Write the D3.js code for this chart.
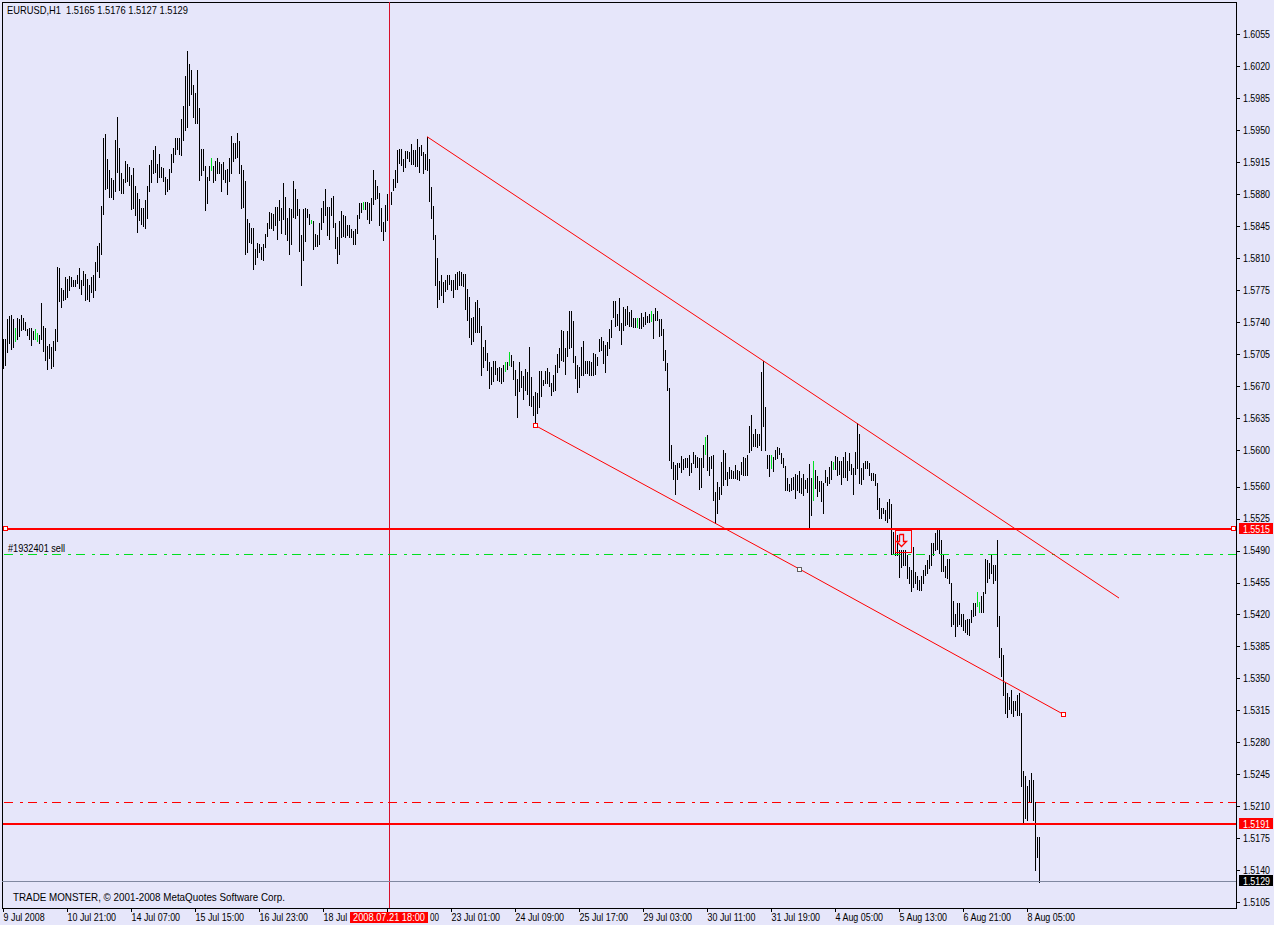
<!DOCTYPE html>
<html><head><meta charset="utf-8">
<script src="https://cdn.jsdelivr.net/npm/d3@7/dist/d3.min.js"></script>
<style>html,body{margin:0;padding:0;background:#E6E6FA}svg{display:block}text{font-family:"Liberation Sans",Arial,sans-serif;font-size:11px;fill:#000}</style>
</head><body><svg id="c" width="1274" height="925"></svg>
<script>
// Hourly bar highs and lows, in pips (price x 10000)
const highs = [
15721,15721,15743,15747,15748,15743,15734,15745,15743,15748,15745,15740,15733,15734,15734,15730,15733,15728,15726,15761,15736,15734,15714,15716,15713,15719,15733,15800,15799,15777,15775,15789,15787,15791,15789,15786,15786,15792,15799,15786,15796,15793,15787,15781,15789,15792,15806,15823,15827,
15867,15941,15946,15919,15906,15898,15896,15939,15965,15931,15903,15897,15916,15913,15910,15901,15909,15889,15881,15875,15865,15865,15874,15889,15912,15917,15928,15933,15913,15924,15910,15909,15899,15897,15908,15924,15931,15942,15942,15941,15962,15977,16009,16037,16022,16016,16000,15991,16016,15974,15930,15930,15911,15899,15911,15920,15911,15916,15920,15915,15913,15915,15907,15908,15920,15944,15936,15936,15947,15938,15912,15907,15894,15853,15848,15843,15843,15820,15827,15826,15822,15825,15836,15849,15860,15859,15858,15866,15866,15874,15865,15892,15877,15854,15865,15864,15894,15886,15875,15864,15835,15864,15865,15864,15858,15852,15851,15836,15835,15848,
15865,15873,15886,15866,15866,15876,15878,15849,15833,15851,15862,15857,15856,15846,15846,15842,15840,15842,15857,15870,15870,15872,15872,15872,15870,15876,15907,15895,15889,15881,15865,15850,15868,15880,15885,15882,15897,15907,15928,15930,15930,15918,15927,15927,15926,15935,15928,15928,15940,15932,15934,15926,15924,15943,15919,15888,15867,15835,15810,15785,15792,15784,15786,15792,15792,15786,15786,15793,15795,15796,15795,15793,15793,15776,15768,15745,15746,15762,15764,15755,15736,15713,15720,15706,15696,15691,15697,15697,15690,15691,15690,15693,15696,15696,15707,15704,15697,15688,15678,15696,15687,15681,15689,15685,15713,15680,15659,15664,15662,15687,15687,15677,15687,15690,15685,15673,15682,15693,15705,15712,15731,15730,15712,15730,15752,15752,15741,15703,15693,15691,15713,15719,15697,15697,15697,15696,15706,15705,15702,15722,15724,15719,15715,15718,15733,15742,15763,15763,15749,15766,15739,15757,15754,15758,15751,15753,15745,15745,15744,15745,
15750,15746,15751,15747,15749,15752,15749,15755,15752,15743,15743,15732,15709,15695,15668,15605,15587,15584,15586,15586,15593,15590,15591,15591,15595,15586,15598,15595,15592,15591,15591,15605,15614,15616,15592,15593,15595,15554,15565,15559,15587,15600,15597,15576,15581,15578,15577,15584,15578,15577,15587,15592,15591,15595,15626,15638,15618,15623,15618,15618,15685,15697,15647,15595,15595,15595,15592,15600,15603,15602,15597,15591,15582,15569,15563,15569,15570,15574,15573,15577,15569,15574,15567,15569,15585,15569,15588,15578,15572,15566,15566,15564,15578,15570,15581,15588,15587,15593,15592,15588,15588,15592,15598,15588,15597,15585,15580,15598,15630,15618,15580,15586,15588,15588,15586,15575,15575,15574,15564,15547,15537,15537,15534,15543,15546,
15541,15510,15509,15507,15491,15491,15491,15491,15485,15472,15469,15494,15467,15462,15458,15462,15469,15474,15480,15485,15498,15498,15509,15513,15513,15502,15485,15473,15481,15481,15455,15435,15421,15433,15433,15420,15420,15414,15415,15415,15425,15433,15433,15445,15434,15440,15445,15481,15480,15476,15485,15474,15474,15502,15418,15383,15376,15346,15334,15330,15337,15325,15325,15332,15334,15312,
15249,15243,15232,15239,15247,15239,15215,15176,15176];
const lows = [
15690,15693,15707,15717,15711,15713,15719,15722,15725,15731,15733,15731,15726,15722,15715,15721,15721,15719,15717,15721,15708,15698,15689,15701,15690,15692,15710,15719,15763,15757,15764,15765,15768,15775,15780,15780,15780,15783,15777,15771,15781,15764,15765,15763,15773,15768,15775,15796,15789,
15814,15858,15886,15887,15877,15877,15875,15883,15904,15885,15881,15881,15893,15894,15890,15864,15865,15857,15839,15852,15847,15845,15843,15854,15883,15893,15903,15904,15893,15899,15899,15894,15880,15883,15886,15904,15915,15924,15929,15924,15923,15939,15950,15954,15978,15990,15964,15958,15958,15896,15901,15906,15863,15870,15896,15907,15893,15896,15903,15903,15884,15897,15893,15880,15894,15903,15916,15920,15921,15903,15865,15866,15815,15817,15828,15827,15798,15804,15811,15817,15809,15808,15822,15834,15843,15843,15841,15846,15831,15852,15838,15853,15836,15830,15815,15825,15855,15854,15857,15818,15781,15808,15829,15855,15847,15848,15820,15823,15823,15825,
15842,15850,15857,15835,15831,15857,15844,15821,15805,15814,15833,15834,15833,15835,15833,15833,15826,15826,15838,15854,15861,15864,15864,15853,15849,15852,15869,15875,15876,15846,15840,15830,15840,15852,15863,15869,15885,15888,15893,15914,15912,15905,15910,15920,15916,15913,15913,15911,15911,15904,15923,15903,15908,15907,15873,15854,15831,15781,15756,15765,15770,15762,15774,15776,15782,15775,15768,15776,15776,15781,15781,15780,15754,15742,15724,15716,15719,15729,15729,15729,15682,15691,15699,15688,15668,15672,15676,15683,15677,15676,15673,15676,15687,15689,15693,15692,15678,15660,15636,15665,15669,15656,15666,15661,15649,15648,15638,15627,15641,15647,15659,15671,15673,15673,15670,15660,15665,15666,15685,15691,15699,15697,15683,15703,15712,15713,15696,15679,15664,15669,15682,15682,15684,15684,15682,15682,15682,15683,15693,15708,15710,15695,15685,15704,15712,15724,15746,15736,15737,15731,15716,15731,15737,15738,15736,15736,15735,15735,15735,15734,
15734,15736,15738,15740,15740,15741,15723,15742,15742,15725,15726,15698,15688,15666,15589,15580,15568,15552,15568,15581,15576,15579,15581,15581,15573,15576,15586,15581,15581,15557,15559,15581,15596,15578,15573,15580,15545,15520,15531,15546,15552,15562,15568,15562,15569,15569,15569,15569,15568,15567,15574,15573,15573,15573,15598,15600,15604,15604,15603,15605,15600,15626,15600,15580,15572,15580,15577,15590,15591,15596,15586,15581,15556,15556,15555,15556,15557,15548,15556,15554,15553,15551,15558,15554,15514,15529,15545,15558,15550,15555,15544,15531,15565,15562,15564,15568,15579,15579,15573,15574,15563,15571,15571,15567,15578,15574,15552,15574,15580,15564,15563,15568,15580,15580,15573,15567,15567,15562,15535,15526,15526,15531,15523,15521,15526,
15486,15486,15485,15485,15461,15472,15474,15474,15460,15454,15446,15450,15454,15448,15447,15447,15454,15463,15465,15471,15474,15485,15491,15492,15487,15468,15468,15461,15460,15455,15407,15410,15396,15407,15410,15407,15403,15401,15399,15398,15412,15418,15419,15429,15423,15423,15423,15444,15456,15460,15465,15455,15458,15407,15374,15353,15332,15312,15308,15317,15312,15309,15315,15310,15310,15232,
15191,15197,15195,15215,15215,15195,15140,15155,15127];
// Bars drawn in green (doji hours)
const greenBars = [6,16,17,104,154,180,251,253,317,324,351,384,405,415,487,488];

const priceTicks = [1.5105,1.5140,1.5175,1.5210,1.5245,1.5280,1.5315,1.5350,1.5385,1.5420,1.5455,1.5490,1.5525,1.5560,1.5600,1.5635,1.5670,1.5705,1.5740,1.5775,1.5810,1.5845,1.5880,1.5915,1.5950,1.5985,1.6020,1.6055];
// Labels as visible: the crosshair's time tag hides the rest of "18 Jul" and the 21 Jul label
const timeLabels = ["9 Jul 2008","10 Jul 21:00","14 Jul 07:00","15 Jul 15:00","16 Jul 23:00","18 Jul","","23 Jul 01:00","24 Jul 09:00","25 Jul 17:00","29 Jul 03:00","30 Jul 11:00","31 Jul 19:00","4 Aug 05:00","5 Aug 13:00","6 Aug 21:00","8 Aug 05:00"];
const barsPerLabel = 32;

// Chart objects: [bar index, price]
const upperChannel = [[212,1.5943],[558,1.5438]];
const lowerChannel = [[266,1.5627],[398,1.5470],[530,1.5311]];
const resistance = 1.5515, support = 1.5191, supportLevel = 1.51915;
const orderLine = 1.5486, stopLine = 1.5215, lastPrice = 1.5129;
const orderBox = [446,454,1.55125,1.5488];
const crosshairBar = 193;
const titleText = "EURUSD,H1  1.5165 1.5176 1.5127 1.5129";
const footerText = "TRADE MONSTER, © 2001-2008 MetaQuotes Software Corp.";
const orderText = "#1932401 sell";
const crosshairText = "2008.07.21 18:00";
const hiddenLabelTail = "00";

const RED="#FF0000", GREEN="#00E020", LAV="#E6E6FA";
const fLeft=2, fTop=2, fRight=1236, fBottom=908;
const svg=d3.select("#c");
const x=d3.scaleLinear().domain([0,518]).range([3,1039]);
const y=d3.scaleLinear().domain([1.5105,1.6055]).range([902.3,34.3]);
const px=v=>Math.round(y(v));
const fit=(sel,w)=>sel.attr("textLength",w).attr("lengthAdjust","spacingAndGlyphs");

svg.append("rect").attr("width",1274).attr("height",925).attr("fill",LAV);

// Bars
const greens=new Set(greenBars);
svg.append("g").attr("shape-rendering","crispEdges").selectAll("rect").data(highs).join("rect")
  .attr("x",(d,i)=>x(i)).attr("width",1)
  .attr("y",d=>px(d/1e4))
  .attr("height",(d,i)=>Math.max(1,px(lows[i]/1e4)-px(d/1e4)+1))
  .attr("fill",(d,i)=>greens.has(i)?GREEN:"#000");

// Frame
svg.append("rect").attr("x",fLeft+.5).attr("y",fTop+.5).attr("width",fRight-fLeft).attr("height",fBottom-fTop)
  .attr("fill","none").attr("stroke","#000").attr("shape-rendering","crispEdges");

// Axes
const yAxis=d3.axisRight(y).tickValues(priceTicks).tickFormat(d3.format(".4f")).tickSize(4).tickPadding(3);
const gy=svg.append("g").attr("transform",`translate(${fRight},0)`).call(yAxis);
gy.select(".domain").remove();
gy.selectAll("line").attr("stroke","#000").attr("shape-rendering","crispEdges");
fit(gy.selectAll("text").attr("fill","#000").style("font-family",'"Liberation Sans"').style("font-size","10px"),27);

const xTicks=timeLabels.map((d,i)=>i*barsPerLabel);
const xAxis=d3.axisBottom(x).tickValues(xTicks).tickFormat((d,i)=>timeLabels[i]).tickSize(4).tickPadding(2);
const gx=svg.append("g").attr("transform",`translate(0,${fBottom})`).call(xAxis);
gx.select(".domain").remove();
gx.selectAll("line").attr("stroke","#000").attr("shape-rendering","crispEdges");
gx.selectAll("text").attr("fill","#000").attr("text-anchor","start").attr("x",0).attr("y",5).attr("dy","0.71em")
  .style("font-family",'"Liberation Sans"').style("font-size","11px")
  .each(function(){const w=this.getComputedTextLength(); if(w>0) fit(d3.select(this),w*0.81);});

// Crosshair and last price
const lines=svg.append("g").attr("shape-rendering","crispEdges");
lines.append("line").attr("x1",x(crosshairBar)+.5).attr("x2",x(crosshairBar)+.5).attr("y1",fTop).attr("y2",fBottom).attr("stroke","#D8102A");
lines.append("line").attr("x1",fLeft).attr("x2",fRight).attr("y1",px(lastPrice)+1.5).attr("y2",px(lastPrice)+1.5).attr("stroke","#8088A0");

// Levels
[resistance,supportLevel].forEach(p=>{
  lines.append("rect").attr("x",fLeft+1).attr("width",fRight-fLeft-1).attr("y",px(p)).attr("height",2).attr("fill",RED);
});
[[orderLine,GREEN],[stopLine,RED]].forEach(([p,c])=>{
  lines.append("line").attr("x1",4).attr("x2",fRight).attr("y1",px(p)+.5).attr("y2",px(p)+.5)
    .attr("stroke",c).attr("stroke-dasharray","9,7,3,5");
});

// Channels
const chan=d3.line().x(d=>x(d[0])).y(d=>y(d[1]));
[upperChannel,lowerChannel].forEach(c=>svg.append("path").attr("d",chan(c)).attr("fill","none").attr("stroke",RED).attr("stroke-width",1));

// Anchor squares
lowerChannel.forEach((d,i)=>svg.append("rect").attr("x",Math.round(x(d[0]))-1.5).attr("y",Math.round(y(d[1]))-1.5).attr("width",4).attr("height",4)
  .attr("fill","#fff").attr("stroke",i===1?"#606060":RED).attr("shape-rendering","crispEdges"));
[3.5,1231.5].forEach(a=>svg.append("rect").attr("x",a).attr("y",px(resistance)-1.5).attr("width",4).attr("height",4)
  .attr("fill","#fff").attr("stroke",RED).attr("shape-rendering","crispEdges"));

// Order box and arrow
const bx=x(orderBox[0]), bx2=x(orderBox[1]), by=px(orderBox[2]), by2=px(orderBox[3]);
svg.append("rect").attr("x",bx+.5).attr("y",by+.5).attr("width",bx2-bx).attr("height",by2-by)
  .attr("fill","none").attr("stroke",RED).attr("shape-rendering","crispEdges");
const ax=bx+6.5, ay=by+4.5;
svg.append("path").attr("d",d3.line()([[ax-2,ay],[ax+2,ay],[ax+2,ay+7],[ax+5,ay+7],[ax,ay+12],[ax-5,ay+7],[ax-2,ay+7],[ax-2,ay]]))
  .attr("fill",LAV).attr("stroke",RED).attr("stroke-width",1.3);

// Price tags on the axis
[[resistance,RED,px(resistance)],[support,RED,px(supportLevel)],[lastPrice,"#000",px(lastPrice)]].forEach(([p,c,row])=>{
  const t=row+1;
  svg.append("rect").attr("x",1239).attr("y",t-6).attr("width",34).attr("height",11).attr("fill",c);
  fit(svg.append("text").attr("x",1243).attr("y",t+3.5).style("font-size","10px").text(d3.format(".4f")(p)).style("fill","#fff"),27);
});

// Time tag under the crosshair
svg.append("rect").attr("x",350).attr("y",912).attr("width",78).attr("height",11).attr("fill",RED);
fit(svg.append("text").attr("x",353).attr("y",921).style("font-size","10px").text(crosshairText).style("fill","#fff"),72);
fit(svg.append("text").attr("x",430).attr("y",921).style("font-size","10px").text(hiddenLabelTail),9);

// Text
fit(svg.append("text").attr("x",7).attr("y",14).style("white-space","pre").text(titleText),181);
fit(svg.append("text").attr("x",13).attr("y",901).text(footerText),272);
fit(svg.append("text").attr("x",8).attr("y",552).text(orderText),57);
</script></body></html>
